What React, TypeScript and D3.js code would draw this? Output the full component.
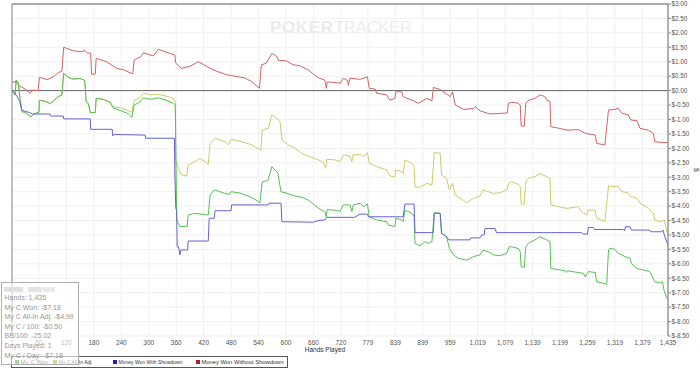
import * as d3 from 'd3'

type Pt = [number, number]

// x axis tick labels (hands)
const handTicks = ['1', '60', '120', '180', '240', '300', '360', '420', '480', '540', '600', '660', '720',
  '779', '839', '899', '959', '1,019', '1,079', '1,139', '1,199', '1,259', '1,319', '1,379', '1,435']

const yTicks = d3.range(-8.5, 3.01, 0.5)

const myCWon: Pt[] = [
  [1, 0.02], [8, -0.15], [10, 0.37], [15, 0.25], [19, -0.33], [23, -0.73], [30, -0.76], [42, -0.9], [50, -0.8], [60, -0.75],
  [61, -0.33], [75, -0.38], [85, -0.45], [92, -0.35], [102, -0.21], [110, -0.15], [114, 0.6], [125, 0.45], [135, 0.4], [150, 0.42],
  [160, 0.35], [163, -0.38], [168, -0.45], [172, -0.76], [183, -0.76], [185, -0.27], [200, -0.3], [215, -0.4], [222, -0.6], [240, -0.7],
  [255, -0.8], [263, -0.93], [268, -0.5], [280, -0.4], [288, -0.25], [305, -0.3], [321, -0.25], [340, -0.35], [354, -0.44], [358, -0.5],
  [361, -4.48], [368, -4.71], [384, -4.7], [386, -4.31], [400, -4.25], [425, -4.3], [430, -4.31], [434, -3.62], [443, -3.44], [465, -3.55],
  [476, -3.6], [480, -3.5], [500, -3.55], [525, -3.7], [543, -3.88], [548, -3.16], [560, -3.12], [569, -2.64], [582, -2.85], [589, -3.5],
  [600, -3.55], [620, -3.65], [635, -3.7], [650, -3.8], [671, -4.08], [685, -4.2], [688, -4.37], [690, -4.12], [712, -4.15], [718, -4.19],
  [725, -3.96], [740, -3.96], [744, -4.19], [747, -3.96], [762, -3.9], [769, -4.02], [778, -3.93], [782, -4.37], [798, -4.48], [820, -4.54],
  [824, -4.66], [838, -4.71], [840, -4.42], [853, -4.48], [856, -4.54], [860, -4.14], [875, -4.25], [880, -4.37], [882, -5.29], [893, -5.38],
  [904, -5.23], [911, -5.29], [919, -5.23], [924, -4.23], [937, -4.25], [940, -4.94], [951, -5.06], [957, -5.46], [966, -5.69], [977, -5.81],
  [995, -5.87], [1010, -5.75], [1024, -5.69], [1031, -5.52], [1042, -5.58], [1053, -5.69], [1068, -5.72], [1082, -5.64], [1088, -5.41], [1093, -5.41],
  [1108, -5.47], [1112, -5.58], [1114, -6.1], [1121, -6.12], [1124, -5.41], [1130, -5.29], [1144, -5.17], [1155, -5.06], [1170, -5.17], [1177, -5.23],
  [1179, -6.16], [1210, -6.24], [1213, -6.3], [1215, -6.24], [1250, -6.33], [1254, -6.45], [1261, -6.27], [1276, -6.3], [1279, -6.62], [1301, -6.71],
  [1305, -5.52], [1308, -5.46], [1319, -5.5], [1326, -5.64], [1334, -5.69], [1341, -5.75], [1352, -5.81], [1355, -5.98], [1366, -6.16], [1380, -6.21],
  [1395, -6.27], [1401, -6.45], [1406, -6.62], [1417, -6.66], [1423, -6.62], [1426, -6.9], [1432, -7.19], [1435, -7.18],
]

const myCAllInAdj: Pt[] = [
  [1, 0.02], [8, -0.15], [10, 0.37], [15, 0.25], [19, -0.33], [23, -0.73], [30, -0.76], [42, -0.9], [50, -0.8], [60, -0.75],
  [61, -0.33], [75, -0.38], [85, -0.45], [92, -0.35], [102, -0.21], [110, -0.15], [114, 0.6], [125, 0.45], [135, 0.4], [150, 0.42],
  [160, 0.35], [163, -0.38], [168, -0.45], [172, -0.76], [183, -0.76], [185, -0.27], [200, -0.3], [215, -0.4], [222, -0.56], [240, -0.6],
  [252, -0.67], [259, -0.72], [263, -0.75], [268, -0.33], [280, -0.25], [288, -0.09], [305, -0.15], [321, -0.13], [340, -0.2], [354, -0.27],
  [358, -0.4], [359, -2.4], [365, -2.69], [372, -2.92], [383, -2.96], [386, -2.58], [401, -2.46], [412, -2.35], [423, -2.46], [430, -2.55],
  [434, -1.83], [445, -1.65], [467, -1.77], [474, -1.88], [480, -1.69], [503, -1.77], [525, -1.88], [545, -2.06], [548, -1.36], [561, -1.31],
  [569, -0.84], [580, -0.96], [587, -1.08], [591, -1.71], [605, -1.88], [620, -2.0], [634, -2.17], [649, -2.27], [671, -2.4], [682, -2.5],
  [687, -2.69], [689, -2.38], [707, -2.4], [718, -2.46], [725, -2.23], [740, -2.27], [744, -2.46], [747, -2.23], [762, -2.2], [769, -2.29],
  [778, -2.15], [782, -2.52], [798, -2.63], [820, -2.75], [827, -2.96], [838, -2.98], [840, -2.75], [853, -2.81], [856, -2.87], [860, -2.4],
  [875, -2.52], [880, -2.63], [882, -3.33], [893, -3.35], [908, -3.21], [919, -3.27], [924, -2.15], [937, -2.17], [940, -2.92], [951, -3.04],
  [957, -3.44], [964, -3.21], [970, -3.62], [988, -3.81], [995, -3.88], [1010, -3.73], [1024, -3.65], [1031, -3.44], [1042, -3.5], [1053, -3.56],
  [1068, -3.54], [1082, -3.44], [1088, -3.19], [1093, -3.16], [1108, -3.25], [1112, -3.33], [1114, -3.93], [1121, -3.93], [1124, -3.16], [1130, -3.04],
  [1144, -2.98], [1155, -2.87], [1170, -2.98], [1177, -3.04], [1179, -3.96], [1195, -4.02], [1214, -4.08], [1239, -4.02], [1246, -4.19], [1257, -4.31],
  [1261, -4.14], [1276, -4.14], [1279, -4.42], [1297, -4.54], [1305, -3.3], [1326, -3.33], [1334, -3.5], [1348, -3.54], [1354, -3.67], [1367, -3.73],
  [1374, -3.9], [1392, -4.08], [1403, -4.25], [1406, -4.48], [1421, -4.54], [1427, -4.48], [1430, -4.71], [1435, -4.99],
]

const wonWithShowdown: Pt[] = [
  [1, 0.0], [4, -0.04], [12, -0.2], [18, -0.38], [22, -0.67], [30, -0.72], [40, -0.76], [45, -0.81], [84, -0.81], [85, -0.88],
  [113, -0.88], [114, -0.98], [172, -0.98], [173, -1.34], [220, -1.34], [221, -1.57], [224, -1.52], [292, -1.54], [293, -1.65], [356, -1.65],
  [357, -2.87], [359, -4.08], [361, -4.14], [362, -5.41], [365, -5.41], [368, -5.69], [370, -5.52], [385, -5.52], [386, -5.21], [430, -5.21],
  [432, -4.42], [443, -4.42], [445, -4.16], [480, -4.16], [481, -3.96], [561, -3.96], [563, -3.9], [589, -3.9], [591, -4.54], [660, -4.56],
  [670, -4.5], [685, -4.48], [689, -4.39], [750, -4.39], [762, -4.28], [778, -4.28], [780, -4.37], [856, -4.37], [860, -3.93], [880, -3.93],
  [882, -4.92], [922, -4.92], [924, -4.25], [937, -4.25], [940, -4.94], [951, -5.06], [956, -5.17], [1002, -5.17], [1004, -5.1], [1024, -5.1],
  [1028, -5.0], [1033, -5.0], [1035, -4.78], [1057, -4.78], [1060, -4.92], [1246, -4.92], [1250, -4.97], [1259, -4.97], [1261, -4.74], [1272, -4.74],
  [1274, -4.81], [1337, -4.81], [1340, -4.86], [1342, -4.71], [1352, -4.72], [1355, -4.83], [1395, -4.83], [1397, -4.89], [1421, -4.89], [1424, -4.83],
  [1428, -5.06], [1435, -5.35],
]

const wonWithoutShowdown: Pt[] = [
  [1, 0.28], [8, 0.31], [18, 0.16], [30, 0.05], [40, -0.09], [47, 0.02], [58, 0.0], [61, 0.46], [78, 0.38], [93, 0.5],
  [102, 0.62], [110, 0.67], [114, 1.5], [135, 1.38], [150, 1.35], [160, 1.38], [166, 1.3], [173, 1.3], [175, 0.57], [183, 0.57],
  [185, 1.12], [208, 1.0], [230, 0.77], [245, 0.72], [259, 0.62], [265, 0.58], [268, 1.06], [283, 1.18], [288, 1.31], [310, 1.2],
  [321, 1.43], [357, 1.23], [359, 0.95], [372, 0.77], [390, 0.84], [408, 1.0], [420, 0.9], [440, 0.72], [470, 0.55], [510, 0.44],
  [525, 0.31], [542, 0.08], [546, 0.89], [557, 0.95], [569, 1.29], [580, 1.18], [583, 1.05], [600, 1.03], [615, 0.9], [632, 0.85],
  [649, 0.71], [670, 0.45], [685, 0.36], [688, 0.08], [690, 0.3], [710, 0.28], [718, 0.25], [725, 0.43], [735, 0.35], [736, 0.19],
  [740, 0.43], [762, 0.39], [778, 0.48], [782, 0.08], [795, 0.05], [798, -0.09], [820, -0.15], [827, -0.33], [838, -0.27], [840, -0.04],
  [853, -0.04], [856, -0.21], [878, -0.35], [889, -0.44], [908, -0.27], [919, -0.35], [922, 0.11], [937, 0.04], [959, -0.21], [964, -0.04],
  [970, -0.5], [988, -0.65], [1010, -0.62], [1014, -0.56], [1024, -0.7], [1046, -0.81], [1068, -0.79], [1084, -0.77], [1086, -0.44], [1093, -0.4],
  [1108, -0.44], [1112, -0.5], [1114, -1.23], [1121, -1.23], [1124, -0.44], [1130, -0.33], [1144, -0.27], [1155, -0.15], [1165, -0.2], [1170, -0.33],
  [1177, -0.37], [1179, -1.25], [1195, -1.3], [1214, -1.37], [1239, -1.35], [1254, -1.48], [1276, -1.54], [1279, -1.83], [1297, -1.88], [1305, -0.67],
  [1319, -0.65], [1326, -0.61], [1334, -0.78], [1348, -0.84], [1354, -1.02], [1367, -1.04], [1374, -1.31], [1392, -1.37], [1403, -1.48], [1406, -1.77],
  [1421, -1.8], [1435, -1.8],
]

const legendNames = ['My C Won', 'My C All-In Adj', 'Money Won With Showdown', 'Money Won Without Showdown']
const statLines = ['Hands: 1,435', 'My C Won: -$7.18', 'My C All-In Adj: -$4.99', 'My C / 100: -$0.50', 'BB/100: -25.02', 'Days Played: 1', 'My C / Day: -$7.18']

const series = [
  { data: myCAllInAdj, color: '#cccc6a', key: '#999922' },
  { data: wonWithoutShowdown, color: '#d46262', key: '#aa2222' },
  { data: myCWon, color: '#55c055', key: '#229922' },
  { data: wonWithShowdown, color: '#6464d0', key: '#2222aa' },
]
const legendOrder = [2, 0, 3, 1]

const FONT = '"Liberation Sans", Arial, sans-serif'

export default function App() {
  const W = 700, H = 371
  const margin = { left: 12, right: 32, top: 4, bottom: 35 }
  const x = d3.scaleLinear().domain([1, 1435]).range([margin.left, W - margin.right])
  const y = d3.scaleLinear().domain([-8.5, 3]).range([H - margin.bottom, margin.top])
  const line = d3.line<Pt>().x(d => x(d[0])).y(d => y(d[1]))
  const tickNum = (s: string) => +s.replace(/,/g, '')
  const fmt = (v: number) => `$${v.toFixed(2)}`
  const legendX = [15, 53, 113, 196]
  const legendW = [28, 33, 64, 82]

  return (
    <div>
      <style>{'body{margin:0}'}</style>
      <svg width={W} height={H} style={{ display: 'block', fontFamily: FONT }}>
        <rect width={W} height={H} fill="#fff" />
        {/* grid */}
        {yTicks.map(t => (
          <line key={'gy' + t} x1={x(1)} x2={x(1435)} y1={y(t)} y2={y(t)} stroke="#f0f0f0" />
        ))}
        {handTicks.map(t => (
          <line key={'gx' + t} x1={x(tickNum(t))} x2={x(tickNum(t))} y1={y(3)} y2={y(-8.5)} stroke="#f0f0f0" />
        ))}
        {/* watermark */}
        <text x={270} y={33} fontSize={17} fontWeight="bold" fill="#ebebeb" textLength={63}>POKER</text>
        <text x={334} y={33} fontSize={17} fill="#ededed" textLength={78}>TRACKER</text>
        {/* zero line */}
        <line x1={x(1)} x2={x(1435)} y1={y(0)} y2={y(0)} stroke="#666" />
        {/* series */}
        {series.map((s, i) => (
          <path key={i} d={line(s.data) || ''} fill="none" stroke={s.color} strokeWidth={1} />
        ))}
        {/* frame */}
        <line x1={x(1)} x2={x(1435)} y1={y(3)} y2={y(3)} stroke="#aaa" strokeWidth={2} />
        <line x1={x(1)} x2={x(1)} y1={y(3)} y2={y(-8.5)} stroke="#888" />
        <line x1={x(1435)} x2={x(1435)} y1={y(3)} y2={y(-8.5)} stroke="#999" strokeWidth={1.5} />
        {/* right axis */}
        {yTicks.map(t => (
          <g key={'yt' + t}>
            <line x1={x(1435)} x2={x(1435) + 3} y1={y(t)} y2={y(t)} stroke="#888" />
            <text x={x(1435) + 3.5} y={y(t) + 2.3} fontSize={6.3} fill="#555">{fmt(t)}</text>
          </g>
        ))}
        <text transform={`translate(694,${y(-2.75)}) rotate(90)`} fontSize={7} fill="#555" textAnchor="middle">$</text>
        {/* bottom axis labels */}
        {handTicks.map(t => (
          <text key={'xt' + t} x={x(tickNum(t))} y={y(-8.5) + 8.5} fontSize={6.5} fill="#555" textAnchor="middle">{t}</text>
        ))}
        <text x={325} y={352} fontSize={6.5} fill="#333" textAnchor="middle">Hands Played</text>
        {/* legend */}
        <rect x={11.5} y={356.5} width={276} height={11} fill="#fff" stroke="#555" />
        {legendOrder.map((si, i) => (
          <g key={'lg' + i}>
            <rect x={legendX[i]} y={360} width={4} height={4} fill={series[si].key} />
            <text x={legendX[i] + 5.5} y={364.3} fontSize={6} fill="#333" textLength={legendW[i]} lengthAdjust="spacingAndGlyphs">{legendNames[i]}</text>
          </g>
        ))}
        {/* stats overlay */}
        <rect x={1.5} y={282.5} width={77} height={82} fill="#fff" fillOpacity={0.6} stroke="#b0b0b0" />
        <rect x={4} y={287} width={19} height={5} fill="#e0e0e0" />
        <rect x={28} y={287} width={14} height={5} fill="#e4e4e4" />
        <rect x={43} y={287} width={12} height={5} fill="#e8e8e8" />
        {statLines.map((s, i) => (
          <text key={'st' + i} x={4.5} y={300 + i * 9.6} fontSize={7} fill="#999">{s}</text>
        ))}
      </svg>
    </div>
  )
}
